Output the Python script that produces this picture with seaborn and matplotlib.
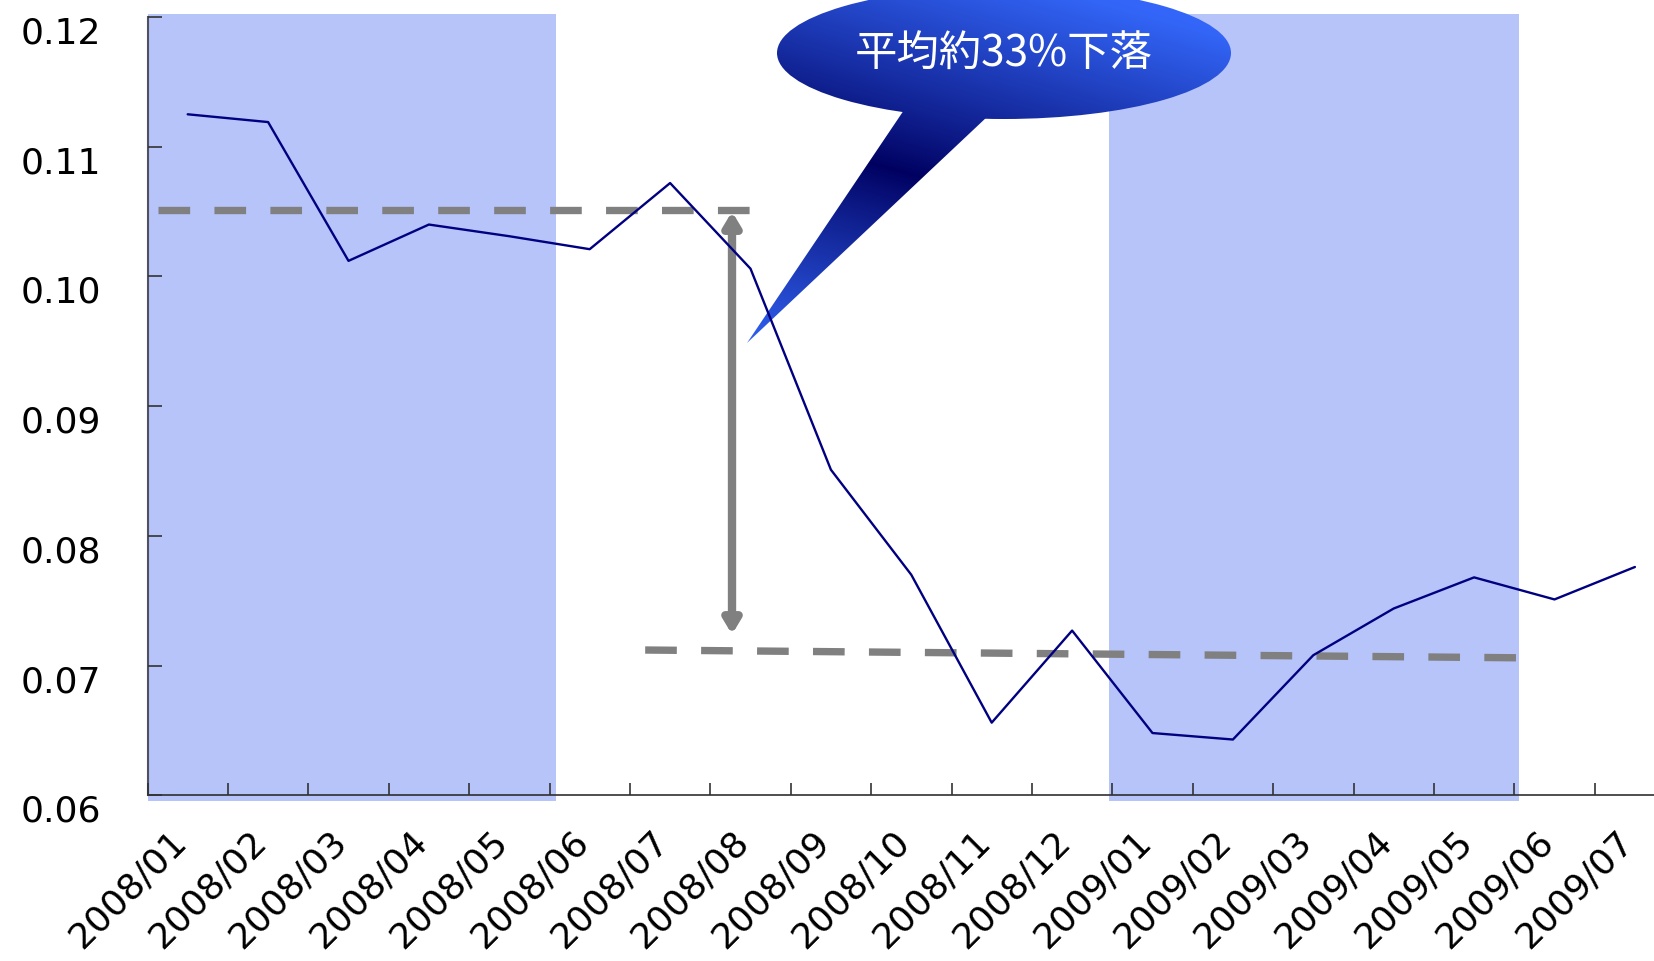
import numpy as np
import pandas as pd
import matplotlib
matplotlib.use("Agg")
import matplotlib.pyplot as plt
import matplotlib.transforms as mtransforms
from matplotlib.patches import Ellipse, Polygon, FancyArrowPatch, ArrowStyle
import seaborn as sns

# ---------------- data ----------------
months = ["2008/01", "2008/02", "2008/03", "2008/04", "2008/05", "2008/06",
          "2008/07", "2008/08", "2008/09", "2008/10", "2008/11", "2008/12",
          "2009/01", "2009/02", "2009/03", "2009/04", "2009/05", "2009/06",
          "2009/07"]
values = [0.1125, 0.1119, 0.1012, 0.1040, 0.1031, 0.1021, 0.1072, 0.1006,
          0.0851, 0.0770, 0.0656, 0.0727, 0.0648, 0.0643, 0.0708, 0.0744,
          0.0768, 0.0751, 0.0776]
ytick_values = [0.06, 0.07, 0.08, 0.09, 0.10, 0.11, 0.12]
ytick_labels = ["0.06", "0.07", "0.08", "0.09", "0.10", "0.11", "0.12"]
avg_before = 0.1051                 # level of upper dashed line
avg_after = (0.0712, 0.0706)        # lower dashed line (start, end)
arrow_range = (0.0724, 0.1050)
callout_text = "平均約33%下落"
shade_spans = [(-0.5, 4.58), (11.46, 16.56)]

df = pd.DataFrame({"idx": np.arange(len(months)), "value": values})

# ---------------- figure ----------------
W, H = 1654, 961
sns.set_theme(style="white")
plt.rcParams["font.family"] = ["DejaVu Sans", "Noto Sans CJK JP"]

fig = plt.figure(figsize=(W / 100, H / 100), dpi=100)
fig.patch.set_facecolor("white")
left_px, bottom_px, top_px = 147.5, 795.3, 17.0
cat_w = 80.4
ax = fig.add_axes([left_px / W, (H - bottom_px) / H,
                   len(months) * cat_w / W, (bottom_px - top_px) / H])
ax.set_facecolor("white")
ax.set_axisbelow(False)
XLIM = (-0.5, len(months) - 0.5)
YLIM = (0.06, 0.12)
ax.set_xlim(*XLIM)
ax.set_ylim(*YLIM)

# shaded periods
for x0, x1 in shade_spans:
    r = ax.axvspan(x0, x1, ymin=-0.007, ymax=1.004, color="#b7c4f9", lw=0, zorder=1)
    r.set_clip_on(False)

# main line (seaborn)
sns.lineplot(data=df, x="idx", y="value", ax=ax, color="#000080",
             linewidth=1.7, zorder=5)

# dashed average lines
dash = (0, (4.3, 3.3))
ax.plot([-0.375, 7.0], [avg_before, avg_before], color="#808080", lw=5.3,
        linestyle=dash, zorder=3)
ax.plot([5.69, 16.55], [avg_after[0], avg_after[1]], color="#808080", lw=5.3,
        linestyle=dash, zorder=3)

# double arrow
arr = FancyArrowPatch((6.77, arrow_range[0]), (6.77, arrow_range[1]),
                      arrowstyle=ArrowStyle("<|-|>", head_length=8, head_width=4.8),
                      mutation_scale=1, lw=6, color="#808080", shrinkA=0, shrinkB=0,
                      zorder=3)
ax.add_patch(arr)

# axes styling
ax.set_xlabel("")
ax.set_ylabel("")
ax.set_yticks(ytick_values)
ax.set_yticklabels(ytick_labels)
ax.set_xticks(np.arange(len(months)))
ax.set_xticklabels(months, rotation=45, ha="right", rotation_mode="anchor")
ax.set_xticks(np.arange(len(months) + 1) - 0.5, minor=True)
ax.tick_params(axis="y", which="major", direction="in", length=10, width=1.2,
               pad=33.6, labelsize=26, colors="#333333", labelcolor="black", left=True)
ax.tick_params(axis="x", which="major", length=0, pad=21, labelsize=26,
               labelcolor="black", bottom=True)
ax.tick_params(axis="x", which="minor", direction="in", length=8.6, width=1.2,
               colors="#333333", bottom=True)
for s in ["top", "right"]:
    ax.spines[s].set_visible(False)
ax.spines["left"].set_color("#505060")
ax.spines["left"].set_linewidth(1.5)
ax.spines["bottom"].set_color("#303030")
ax.spines["bottom"].set_linewidth(1.2)

# shift tick labels slightly like the reference
for lab in ax.get_yticklabels():
    lab.set_transform(lab.get_transform() +
                      mtransforms.ScaledTranslation(0, -13 / 100, fig.dpi_scale_trans))
for lab in ax.get_xticklabels():
    lab.set_transform(lab.get_transform() +
                      mtransforms.ScaledTranslation(-19 / 100, 0, fig.dpi_scale_trans))

# ---------------- callout bubble with gradient ----------------
pix = mtransforms.Affine2D().scale(1, -1).translate(0, H)   # image pixels (y down) -> display
inv = ax.transData.inverted()

def px2data(px, py):
    return inv.transform((px, H - py))

bx0, bx1, by0, by1 = 735, 1240, -20, 350
xs = np.linspace(bx0, bx1, 505)
ys = np.linspace(by0, by1, 370)
X, Y = np.meshgrid(xs, ys)
nvec = np.array([0.27, -0.96])
p0 = np.array([860.0, 160.0])
sval = (X - p0[0]) * nvec[0] + (Y - p0[1]) * nvec[1]
t = np.clip(np.abs(sval) / 220.0, 0, 1) ** 0.9
dark = np.array([0x00, 0x00, 0x60]) / 255.0
bright = np.array([0x33, 0x66, 0xF8]) / 255.0
img = dark + (bright - dark) * t[..., None]

d_ll = px2data(bx0, by1)
d_ur = px2data(bx1, by0)
extent = (d_ll[0], d_ur[0], d_ll[1], d_ur[1])

ell = Ellipse((1004, 53), 454, 132, transform=pix)
tail = Polygon([(902, 100), (904, 110), (747, 343), (988, 116), (992, 100)],
               closed=True, transform=pix)
for clip in (ell, tail):
    im = ax.imshow(img, extent=extent, origin="upper", aspect="auto",
                   interpolation="bilinear", zorder=2)
    im.set_clip_path(clip)
    im.set_clip_box(fig.bbox)

ax.set_xlim(*XLIM)
ax.set_ylim(*YLIM)

ax.text(1004, 55, callout_text, transform=pix, color="white", fontsize=30.5,
        ha="center", va="center", family=["Noto Sans CJK JP", "DejaVu Sans"],
        zorder=4, clip_on=False)

fig.savefig("out.png", dpi=100)
